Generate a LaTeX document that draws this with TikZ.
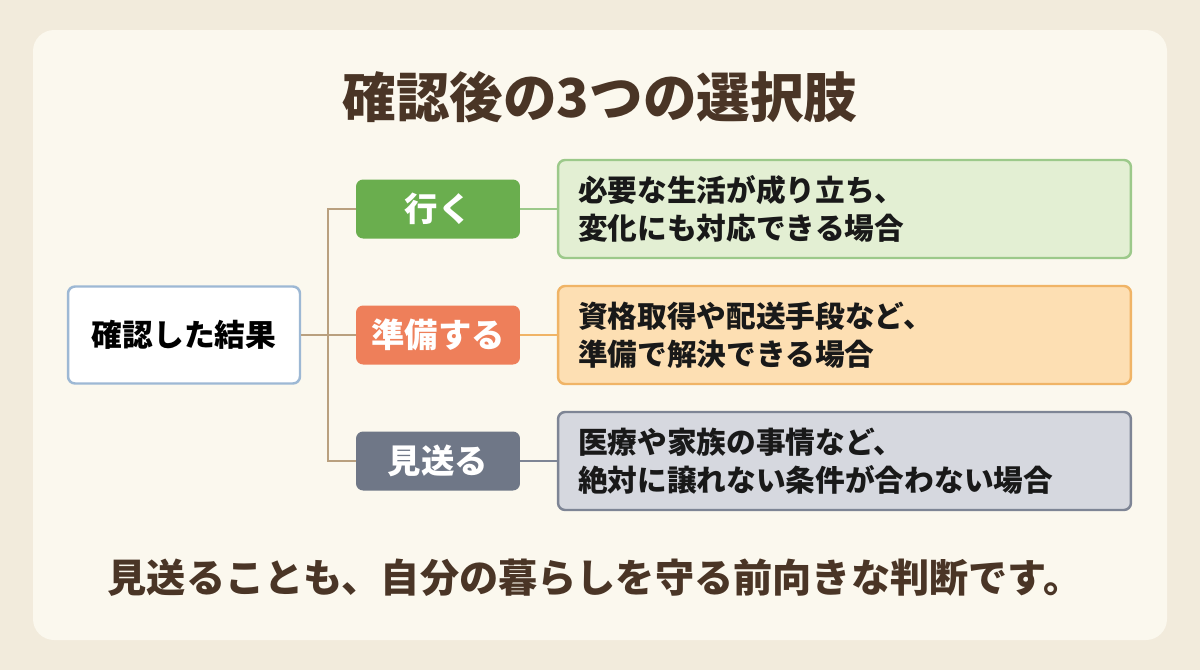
\documentclass[tikz,border=0pt]{standalone}
\usepackage{fontspec}
\setmainfont{Noto Sans CJK JP}
\usepackage{tikz}
\usetikzlibrary{positioning}
\usepackage{xcolor}
\definecolor{pagebg}{HTML}{F2EBDC}
\definecolor{cardbg}{HTML}{FBF8EE}
\definecolor{darkbrown}{HTML}{4A3526}
\definecolor{rootline}{HTML}{9DB8D4}
\definecolor{trunkline}{HTML}{B9A07F}
\definecolor{gogreen}{HTML}{6AAE4E}
\definecolor{golight}{HTML}{E3EFD3}
\definecolor{goline}{HTML}{9CC98A}
\definecolor{preporange}{HTML}{EE7F5A}
\definecolor{preplight}{HTML}{FDDFB3}
\definecolor{prepline}{HTML}{F0B466}
\definecolor{skipgrey}{HTML}{6F7787}
\definecolor{skiplight}{HTML}{D6D8DF}
\definecolor{skipline}{HTML}{7E8595}

\begin{document}
\begin{tikzpicture}[
    x=0.02cm, y=-0.02cm,
    rootbox/.style={rectangle, draw=rootline, fill=white, line width=1.4pt,
      minimum width=4.64cm, minimum height=1.94cm, rounded corners=4pt,
      font=\fontsize{17.5}{20}\selectfont\bfseries, text=black},
    choice/.style={rectangle, fill=#1, minimum width=3.28cm,
      minimum height=1.18cm, rounded corners=4pt, text=white,
      font=\fontsize{19}{22}\selectfont\bfseries},
    detail/.style={rectangle, minimum width=11.46cm, minimum height=1.96cm,
      text width=10.66cm, inner xsep=0.4cm, align=left, line width=1.4pt,
      rounded corners=4pt, text=black!90,
      font=\fontsize{16.9}{21.5}\selectfont\bfseries},
    link/.style={line width=1.4pt, draw=#1},
  ]
    % background and card
    \fill[pagebg] (0,0) rectangle (1200,670);
    \fill[cardbg, rounded corners=12pt] (33,30) rectangle (1167,640);

    \node[text=darkbrown, font=\fontsize{30.5}{34}\selectfont\bfseries]
      (title) at (600,97) {確認後の3つの選択肢};

    \node[rootbox] (root) at (184,335) {確認した結果};

    \node[choice=gogreen] (go) at (438,209) {行く};
    \node[choice=preporange] (prep) at (438,335) {準備する};
    \node[choice=skipgrey] (skip) at (438,461) {見送る};

    \node[detail, draw=goline, fill=golight] (godetail) at (844.5,209)
      {必要な生活が成り立ち、\\変化にも対応できる場合};
    \node[detail, draw=prepline, fill=preplight] (prepdetail) at (844.5,335)
      {資格取得や配送手段など、\\準備で解決できる場合};
    \node[detail, draw=skipline, fill=skiplight] (skipdetail) at (844.5,461)
      {医療や家族の事情など、\\絶対に譲れない条件が合わない場合};

    \node[text=darkbrown, font=\fontsize{22.3}{25}\selectfont\bfseries]
      (note) at (595,578) {見送ることも、自分の暮らしを守る前向きな判断です。};

    % tree connectors
    \coordinate (trunk) at (328,335);
    \draw[link=trunkline] (root.east) -- (prep.west);
    \draw[link=trunkline] (go.west) -| (trunk);
    \draw[link=trunkline] (skip.west) -| (trunk);
    \draw[link=goline] (go.east) -- (godetail.west);
    \draw[link=prepline] (prep.east) -- (prepdetail.west);
    \draw[link=skipline] (skip.east) -- (skipdetail.west);
\end{tikzpicture}
\end{document}
